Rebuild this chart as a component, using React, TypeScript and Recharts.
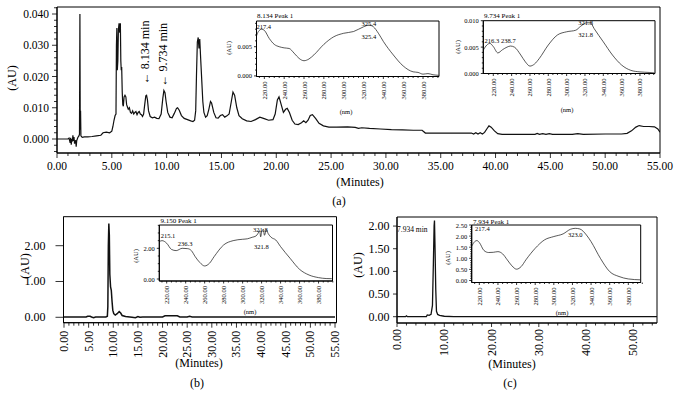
import React from 'react';
import { ComposedChart, Line, XAxis, YAxis, ReferenceArea, ReferenceDot } from 'recharts';

const W = 678;
const H = 406;
const SERIF = '"Liberation Serif", "Times New Roman", Times, serif';

// ---------------- DATA ----------------
// (a) chromatogram: [minutes, AU]
const chromA: [number, number][] = [
  [0, 0], [0.5, 0], [1.0, 0], [1.1, 0.0003], [1.2, -0.0012], [1.25, 0.0004], [1.3, -0.0018], [1.35, 0], [1.4, -0.0008],
  [1.45, 0.0012], [1.5, -0.0006], [1.55, 0.0006], [1.6, -0.0015], [1.7, -0.0004], [1.75, -0.0025], [1.8, -0.0005], [1.9, 0.0005],
  [2.0, 0.001], [2.05, 0.0015], [2.09, 0.04], [2.12, 0.003], [2.15, 0.009], [2.18, 0.001], [2.3, 0.0005], [2.5, 0.0007],
  [2.8, 0.0007], [3.2, 0.0008], [3.6, 0.001], [4.0, 0.0012], [4.2, 0.002], [4.5, 0.0022], [4.8, 0.002], [5.0, 0.0025],
  [5.1, 0.004], [5.2, 0.006], [5.3, 0.0075], [5.38, 0.008], [5.42, 0.03], [5.46, 0.0355], [5.5, 0.022], [5.55, 0.025],
  [5.6, 0.035], [5.66, 0.037], [5.72, 0.034], [5.78, 0.037], [5.82, 0.025], [5.86, 0.022], [5.9, 0.023], [5.95, 0.015],
  [6.0, 0.011], [6.05, 0.0105], [6.12, 0.0135], [6.2, 0.014], [6.28, 0.0135], [6.35, 0.011], [6.45, 0.01], [6.5, 0.0095],
  [6.6, 0.01], [6.7, 0.0085], [6.8, 0.0082], [6.9, 0.009], [7.0, 0.008], [7.1, 0.0085], [7.2, 0.0088], [7.3, 0.0078],
  [7.4, 0.0085], [7.5, 0.0088], [7.6, 0.008], [7.7, 0.0078], [7.8, 0.0072], [7.9, 0.008], [8.0, 0.011], [8.1, 0.0138],
  [8.17, 0.014], [8.25, 0.0125], [8.35, 0.009], [8.5, 0.0072], [8.7, 0.0068], [8.9, 0.007], [9.1, 0.0066], [9.3, 0.0065],
  [9.5, 0.008], [9.65, 0.013], [9.75, 0.0155], [9.85, 0.0148], [9.95, 0.012], [10.1, 0.0085], [10.3, 0.007], [10.5, 0.0068],
  [10.7, 0.0082], [10.9, 0.0098], [11.0, 0.01], [11.15, 0.0092], [11.35, 0.0075], [11.6, 0.0066], [11.9, 0.0062],
  [12.2, 0.0058], [12.4, 0.0056], [12.55, 0.006], [12.65, 0.009], [12.72, 0.02], [12.8, 0.031], [12.88, 0.0325],
  [12.95, 0.029], [13.02, 0.032], [13.1, 0.026], [13.2, 0.019], [13.3, 0.012], [13.4, 0.0085], [13.55, 0.007],
  [13.7, 0.0075], [13.85, 0.0095], [14.0, 0.012], [14.1, 0.0115], [14.3, 0.0085], [14.5, 0.0068], [14.7, 0.0067],
  [14.9, 0.0075], [15.1, 0.0078], [15.3, 0.007], [15.5, 0.0074], [15.7, 0.008], [15.9, 0.012], [16.05, 0.015],
  [16.2, 0.014], [16.4, 0.01], [16.6, 0.0075], [16.9, 0.0065], [17.3, 0.0058], [17.7, 0.0056], [18.1, 0.0062],
  [18.5, 0.007], [18.9, 0.0065], [19.3, 0.006], [19.7, 0.0062], [19.9, 0.008], [20.1, 0.0125], [20.25, 0.0135],
  [20.45, 0.011], [20.65, 0.0085], [20.85, 0.0095], [21.0, 0.0098], [21.2, 0.0085], [21.45, 0.006], [21.7, 0.0048],
  [22.0, 0.0046], [22.3, 0.0052], [22.5, 0.0058], [22.7, 0.0052], [22.9, 0.006], [23.1, 0.0075], [23.3, 0.0078],
  [23.6, 0.0065], [23.9, 0.005], [24.3, 0.0042], [24.8, 0.0038], [25.5, 0.0038], [26.5, 0.0039], [27.2, 0.0037],
  [27.5, 0.0034], [27.8, 0.0036], [28.5, 0.0034], [29.5, 0.0032], [30.5, 0.003], [31.5, 0.0029], [32.5, 0.0028],
  [33.3, 0.0028], [33.6, 0.0019], [35.0, 0.0019], [36.5, 0.0019], [37.8, 0.0019], [38.0, 0.0016], [38.2, 0.002],
  [38.4, 0.0016], [38.6, 0.002], [38.8, 0.0016], [39.0, 0.0021], [39.2, 0.0032], [39.4, 0.0042], [39.6, 0.0038],
  [39.9, 0.0026], [40.2, 0.0017], [40.6, 0.0015], [42.0, 0.0015], [43.6, 0.0015], [43.8, 0.0018], [44.0, 0.0015],
  [44.3, 0.0017], [44.6, 0.0015], [44.9, 0.0017], [45.2, 0.0015], [47.0, 0.0015], [47.5, 0.0017], [48.0, 0.0015],
  [50.0, 0.0016], [51.5, 0.0016], [52.0, 0.0018], [52.4, 0.0026], [52.8, 0.0038], [53.1, 0.0043], [53.5, 0.004],
  [54.0, 0.004], [54.5, 0.0039], [54.8, 0.0032], [55.0, 0.0022],
];

// (a) inset spectra: [nm, AU]
const specA1: [number, number][] = [
  [212, 0.0068], [214, 0.0076], [217.4, 0.008], [220, 0.0078], [225, 0.0064], [230, 0.0054], [235, 0.005], [240, 0.0048],
  [245, 0.0047], [250, 0.0039], [255, 0.003], [260, 0.0026], [265, 0.0029], [270, 0.0036], [280, 0.0054], [290, 0.0067],
  [300, 0.0073], [310, 0.0076], [320, 0.0084], [325.4, 0.0087], [330, 0.0084], [335, 0.0073], [340, 0.0059], [350, 0.0036],
  [360, 0.0017], [370, 0.0007], [375, 0.0006], [380, 0.0003], [385, 0.0004], [390, 0.0002], [396, 0.0001],
];
const specA2: [number, number][] = [
  [209, 0.0044], [213, 0.0054], [216.3, 0.0057], [220, 0.0051], [225, 0.0039], [230, 0.0045], [235, 0.005], [238.7, 0.0052],
  [243, 0.005], [250, 0.0035], [255, 0.0022], [260, 0.0014], [265, 0.0018], [270, 0.0028], [280, 0.0054], [290, 0.0073],
  [300, 0.0079], [310, 0.0082], [315, 0.0089], [321.8, 0.0096], [326, 0.0096], [330, 0.0085], [340, 0.006], [350, 0.0035],
  [360, 0.0016], [370, 0.0006], [380, 0.0003], [390, 0.0002], [396, 0.0001],
];

// (b) chromatogram and spectrum
const chromB: [number, number][] = [
  [0, 0.01], [2, 0.01], [4.5, 0.01], [4.8, 0.03], [5.3, 0.03], [5.6, 0.01], [6.0, -0.01], [6.4, 0.01], [8.5, 0.01],
  [8.8, 0.03], [8.9, 0.3], [9.0, 2.0], [9.1, 2.62], [9.2, 2.3], [9.3, 1.2], [9.45, 0.85], [9.6, 0.75], [9.75, 0.45],
  [9.9, 0.2], [10.1, 0.1], [10.4, 0.06], [10.8, 0.1], [11.2, 0.16], [11.5, 0.12], [11.8, 0.05], [12.5, 0.02], [13.8, 0.0],
  [14.5, -0.01], [15.0, 0.02], [15.4, 0.0], [16, 0.01], [20, 0.01], [20.5, 0.04], [23, 0.04], [23.5, 0.01], [25, 0.01],
  [25.5, 0.03], [26, 0.01], [55, 0.01],
];
const specB: [number, number][] = [
  [212, 2.43], [215.1, 2.5], [220, 2.33], [225, 1.93], [230, 1.85], [236.3, 2.0], [242, 1.98], [246, 1.85], [250, 1.46],
  [255, 1.07], [260, 0.85], [265, 1.02], [270, 1.46], [280, 2.22], [290, 2.5], [300, 2.59], [305, 2.62], [310, 2.72],
  [314, 2.8], [316, 2.95], [318, 3.15], [319, 2.75], [320, 3.05], [321.8, 3.24], [323, 2.85], [325, 3.2], [327, 2.95],
  [330, 2.72], [335, 2.54], [340, 2.11], [350, 1.35], [360, 0.63], [370, 0.26], [380, 0.09], [388, 0.03], [394, 0.02],
];

// (c) chromatogram and spectrum
const chromC: [number, number][] = [
  [0, 0], [1.8, 0], [2.0, 0.02], [2.2, 0], [6.2, 0], [6.4, 0.04], [6.8, 0.03], [7.2, 0.05], [7.5, 0.25], [7.7, 1.2],
  [7.85, 2.0], [7.93, 2.12], [8.05, 1.5], [8.2, 0.6], [8.35, 0.12], [8.6, 0.05], [9, 0.03], [10, 0.01], [12, 0], [55, 0],
];
const specC: [number, number][] = [
  [212, 1.56], [215, 1.75], [217.4, 1.8], [220, 1.71], [225, 1.35], [230, 1.26], [235, 1.27], [240, 1.3], [245, 1.2],
  [250, 0.93], [255, 0.66], [260, 0.51], [265, 0.63], [270, 0.93], [280, 1.45], [290, 1.83], [300, 1.98], [310, 2.1],
  [318, 2.31], [323, 2.35], [328, 2.32], [335, 2.05], [340, 1.75], [350, 1.0], [360, 0.4], [370, 0.18], [380, 0.07], [393, 0.03],
];

// Peak / maxima labels: value positions and texts
const peaksA = [
  { x: 8.134, y: 0.014, text: '\u2190 8.134 min' },
  { x: 9.734, y: 0.0155, text: '\u2190 9.734 min' },
];
const labelsA1 = [
  { x: 217.4, y: 0.008, text: '217.4' },
  { x: 325.4, y: 0.0087, text: '325.4' },
  { x: 325.4, y: 0.0087, text: '325.4' },
];
const labelsA2 = [
  { x: 216.3, y: 0.0057, text: '216.3' },
  { x: 238.7, y: 0.0052, text: '238.7' },
  { x: 321.8, y: 0.0096, text: '321.8' },
  { x: 321.8, y: 0.0096, text: '321.8' },
];
const labelsB = [
  { x: 215.1, y: 2.5, text: '215.1' },
  { x: 236.3, y: 2.0, text: '236.3' },
  { x: 321.8, y: 3.24, text: '321.8' },
  { x: 321.8, y: 3.24, text: '321.8' },
];
const peaksC = [{ x: 7.934, y: 2.12, text: '7.934 min' }];
const labelsC = [
  { x: 217.4, y: 1.8, text: '217.4' },
  { x: 323.0, y: 2.35, text: '323.0' },
];

// tick values
const range = (a: number, b: number, s: number) => {
  const out: number[] = [];
  for (let v = a; v <= b + 1e-9; v += s) out.push(Math.round(v * 1e6) / 1e6);
  return out;
};
const ticksAx = range(0, 55, 1);
const ticksAy = range(-0.004, 0.042, 0.002);
const ticksBx = range(0, 55, 1);
const ticksBy = [0, 1, 2];
const ticksCx = range(0, 54, 2);
const ticksCy = [0, 0.5, 1, 1.5, 2];
const ticksNm = range(215, 395, 5);
const ticksA1y = range(0, 0.009, 0.001);
const ticksA2y = range(0, 0.01, 0.001);
const ticksBIy = range(0, 3.5, 0.5);
const ticksCIy = range(0, 2.5, 0.1);

// ---------------- RENDERING ----------------
type AxisStyle = {
  major: number;
  majorLen: number;
  minorLen: number;
  fs: number;
  offset: number;
  rotate?: boolean;
  digits: number;
};
type Note = { x: number; y: number; text: string };
type NoteStyle = { dx: number; dy: number; anchor?: 'start' | 'middle' | 'end'; fs: number; rotate?: boolean };

const isMajor = (v: number, step: number) => Math.abs(v / step - Math.round(v / step)) < 1e-6;

function makeXTick(s: AxisStyle, axisY: number) {
  return (p: any) => {
    const v = p.payload.value as number;
    const maj = isMajor(v, s.major);
    const len = maj ? s.majorLen : s.minorLen;
    const x = p.x;
    const y = axisY;
    const label = v.toFixed(s.digits);
    return (
      <g key={`xt-${v}`}>
        <line x1={x} x2={x} y1={y} y2={y + len} stroke="#000" strokeWidth={0.8} />
        {maj &&
          (s.rotate ? (
            <text
              transform={`translate(${x},${y + s.offset}) rotate(-90)`}
              textAnchor="end"
              dominantBaseline="central"
              fontSize={s.fs}
              fontFamily={SERIF}
              fill="#000"
            >
              {label}
            </text>
          ) : (
            <text x={x} y={y + s.offset} textAnchor="middle" fontSize={s.fs} fontFamily={SERIF} fill="#000">
              {label}
            </text>
          ))}
      </g>
    );
  };
}

function makeYTick(s: AxisStyle, axisX: number) {
  return (p: any) => {
    const v = p.payload.value as number;
    const maj = isMajor(v, s.major);
    const len = maj ? s.majorLen : s.minorLen;
    const x = axisX;
    const y = p.y;
    return (
      <g key={`yt-${v}`}>
        <line x1={x - len} x2={x} y1={y} y2={y} stroke="#000" strokeWidth={0.8} />
        {maj && (
          <text x={x - s.offset} y={y} textAnchor="end" dominantBaseline="central" fontSize={s.fs} fontFamily={SERIF} fill="#000">
            {v.toFixed(s.digits)}
          </text>
        )}
      </g>
    );
  };
}

type Box = { l: number; r: number; t: number; b: number };
type PanelProps = {
  box: Box;
  xDomain: [number, number];
  yDomain: [number, number];
  xTicks: number[];
  yTicks: number[];
  xs: AxisStyle;
  ys: AxisStyle;
  data: [number, number][];
  strokeWidth: number;
  curve: 'linear' | 'monotone';
  notes?: Note[];
  noteStyles?: NoteStyle[];
};

function Panel(props: PanelProps) {
  const { box, xDomain, yDomain, xTicks, yTicks, xs, ys, data, strokeWidth, curve } = props;
  const notes = props.notes || [];
  const noteStyles = props.noteStyles || [];
  const chartData = data.map(([x, y]) => ({ x, y }));
  return (
    <div style={{ position: 'absolute', left: 0, top: 0, width: W, height: H }}>
      <ComposedChart
        width={W}
        height={H}
        data={chartData}
        margin={{ top: box.t, left: box.l - 1, right: W - box.r, bottom: H - box.b - 1 }}
      >
        <XAxis
          type="number"
          dataKey="x"
          domain={xDomain}
          allowDataOverflow
          ticks={xTicks}
          interval={0}
          height={1}
          tickSize={0}
          tickMargin={0}
          tickLine={false}
          axisLine={{ stroke: '#000', strokeWidth: 1 }}
          tick={makeXTick(xs, box.b)}
        />
        <YAxis
          type="number"
          domain={yDomain}
          allowDataOverflow
          ticks={yTicks}
          interval={0}
          width={1}
          tickSize={0}
          tickMargin={0}
          tickLine={false}
          axisLine={{ stroke: '#000', strokeWidth: 1 }}
          tick={makeYTick(ys, box.l)}
        />
        <ReferenceArea
          x1={xDomain[0]}
          x2={xDomain[1]}
          y1={yDomain[0]}
          y2={yDomain[1]}
          fill="none"
          fillOpacity={0}
          stroke="#000"
          strokeWidth={1}
          ifOverflow="visible"
        />
        <Line
          type={curve}
          dataKey="y"
          stroke="#111"
          strokeWidth={strokeWidth}
          dot={false}
          activeDot={false}
          isAnimationActive={false}
        />
        {notes.map((n, i) => {
          const st = noteStyles[i] || { dx: 0, dy: 0, fs: 7 };
          return (
            <ReferenceDot
              key={`n-${i}`}
              x={n.x}
              y={n.y}
              r={0}
              ifOverflow="visible"
              shape={(p: any) =>
                st.rotate ? (
                  <text
                    transform={`translate(${p.cx + st.dx},${p.cy + st.dy}) rotate(-90)`}
                    textAnchor={st.anchor || 'start'}
                    dominantBaseline="central"
                    fontSize={st.fs}
                    fontFamily={SERIF}
                    fill="#000"
                  >
                    {n.text}
                  </text>
                ) : (
                  <text
                    x={p.cx + st.dx}
                    y={p.cy + st.dy}
                    textAnchor={st.anchor || 'middle'}
                    fontSize={st.fs}
                    fontFamily={SERIF}
                    fill="#000"
                  >
                    {n.text}
                  </text>
                )
              }
            />
          );
        })}
      </ComposedChart>
    </div>
  );
}

// styles
const mainAx: AxisStyle = { major: 5, majorLen: 5, minorLen: 3, fs: 11.5, offset: 17, digits: 2 };
const mainAy: AxisStyle = { major: 0.01, majorLen: 5, minorLen: 3, fs: 11.5, offset: 8, digits: 3 };
const mainBx: AxisStyle = { major: 5, majorLen: 5, minorLen: 3, fs: 12, offset: 8, rotate: true, digits: 2 };
const mainBy: AxisStyle = { major: 1, majorLen: 8, minorLen: 4, fs: 12, offset: 18, digits: 2 };
const mainCx: AxisStyle = { major: 10, majorLen: 4, minorLen: 2.5, fs: 12, offset: 6, rotate: true, digits: 2 };
const mainCy: AxisStyle = { major: 0.5, majorLen: 4, minorLen: 2, fs: 12, offset: 7.5, digits: 2 };
const insetX: AxisStyle = { major: 20, majorLen: 2.5, minorLen: 1.5, fs: 6.5, offset: 5, rotate: true, digits: 2 };
const insetY3: AxisStyle = { major: 0.005, majorLen: 2.5, minorLen: 1.5, fs: 6.5, offset: 4.5, digits: 3 };
const insetYB: AxisStyle = { major: 2, majorLen: 2.5, minorLen: 1.5, fs: 6.5, offset: 4.5, digits: 2 };
const insetYC: AxisStyle = { major: 0.5, majorLen: 2.5, minorLen: 1.5, fs: 6.5, offset: 4.5, digits: 2 };

const peaksAStyle: NoteStyle[] = [
  { dx: -1, dy: -11, fs: 12, rotate: true, anchor: 'start' },
  { dx: -1, dy: -4, fs: 12, rotate: true, anchor: 'start' },
];
const labelsA1Style: NoteStyle[] = [
  { dx: 2, dy: 0, fs: 6.5 },
  { dx: 0, dy: 1, fs: 6.5 },
  { dx: 0, dy: 13.5, fs: 6.5 },
];
const labelsA2Style: NoteStyle[] = [
  { dx: 2, dy: 0, fs: 6.5 },
  { dx: -2, dy: -3, fs: 6.5 },
  { dx: -1, dy: 2.5, fs: 6.5 },
  { dx: -1, dy: 14.5, fs: 6.5 },
];
const labelsBStyle: NoteStyle[] = [
  { dx: 6, dy: -2.5, fs: 6.5 },
  { dx: 3, dy: -2, fs: 6.5 },
  { dx: -3, dy: 3, fs: 6.5 },
  { dx: -2, dy: 19.5, fs: 6.5 },
];
const peaksCStyle: NoteStyle[] = [{ dx: -7, dy: 11, fs: 7.5, anchor: 'end' }];
const labelsCStyle: NoteStyle[] = [
  { dx: 5.5, dy: -10, fs: 6.5 },
  { dx: 0, dy: 9, fs: 6.5 },
];

type T = { x: number; y: number; t: string; fs: number; rot?: boolean; anchor?: 'start' | 'middle' | 'end' };
const overlayTexts: T[] = [
  { x: 12, y: 78, t: '(AU)', fs: 12, rot: true },
  { x: 360, y: 186, t: '(Minutes)', fs: 12 },
  { x: 339, y: 205, t: '(a)', fs: 12 },
  { x: 257, y: 17.5, t: '8.134 Peak 1', fs: 7, anchor: 'start' },
  { x: 228, y: 48, t: '(AU)', fs: 6.5, rot: true },
  { x: 346, y: 114, t: '(nm)', fs: 6.5 },
  { x: 484, y: 17.5, t: '9.734 Peak 1', fs: 7, anchor: 'start' },
  { x: 457, y: 47, t: '(AU)', fs: 6.5, rot: true },
  { x: 567, y: 112, t: '(nm)', fs: 6.5 },
  { x: 25, y: 266, t: '(AU)', fs: 12, rot: true },
  { x: 199, y: 367, t: '(Minutes)', fs: 12 },
  { x: 197, y: 387, t: '(b)', fs: 12 },
  { x: 160.5, y: 223, t: '9.150 Peak 1', fs: 7, anchor: 'start' },
  { x: 135, y: 256, t: '(AU)', fs: 6.5, rot: true },
  { x: 250, y: 314, t: '(nm)', fs: 6.5 },
  { x: 358, y: 265, t: '(AU)', fs: 12, rot: true },
  { x: 512, y: 368, t: '(Minutes)', fs: 12 },
  { x: 510, y: 387, t: '(c)', fs: 12 },
  { x: 473, y: 223.5, t: '7.934 Peak 1', fs: 7, anchor: 'start' },
  { x: 447, y: 258, t: '(AU)', fs: 6.5, rot: true },
  { x: 562, y: 315, t: '(nm)', fs: 6.5 },
];

export default function App() {
  return (
    <div style={{ position: 'absolute', left: 0, top: 0, width: W, height: H, background: '#fff', overflow: 'hidden' }}>
      <Panel
        box={{ l: 57, r: 660, t: 7, b: 153 }}
        xDomain={[0, 55]}
        yDomain={[-0.00448, 0.04224]}
        xTicks={ticksAx}
        yTicks={ticksAy}
        xs={mainAx}
        ys={mainAy}
        data={chromA}
        strokeWidth={1.2}
        curve="linear"
        notes={peaksA}
        noteStyles={peaksAStyle}
      />
      <Panel
        box={{ l: 256.5, r: 439, t: 21, b: 76.5 }}
        xDomain={[212.1, 396.1]}
        yDomain={[-0.0001, 0.0094]}
        xTicks={ticksNm}
        yTicks={ticksA1y}
        xs={insetX}
        ys={insetY3}
        data={specA1}
        strokeWidth={0.7}
        curve="monotone"
        notes={labelsA1}
        noteStyles={labelsA1Style}
      />
      <Panel
        box={{ l: 483.3, r: 655, t: 20.7, b: 73.5 }}
        xDomain={[209.1, 396.4]}
        yDomain={[0, 0.01]}
        xTicks={ticksNm}
        yTicks={ticksA2y}
        xs={insetX}
        ys={insetY3}
        data={specA2}
        strokeWidth={0.7}
        curve="monotone"
        notes={labelsA2}
        noteStyles={labelsA2Style}
      />
      <Panel
        box={{ l: 63.5, r: 336.5, t: 216.7, b: 322.7 }}
        xDomain={[-0.1, 55.3]}
        yDomain={[-0.151, 2.81]}
        xTicks={ticksBx}
        yTicks={ticksBy}
        xs={mainBx}
        ys={mainBy}
        data={chromB}
        strokeWidth={1.5}
        curve="linear"
      />
      <Panel
        box={{ l: 159.3, r: 332.5, t: 225, b: 281 }}
        xDomain={[212.2, 394.7]}
        yDomain={[-0.13, 3.52]}
        xTicks={ticksNm}
        yTicks={ticksBIy}
        xs={insetX}
        ys={insetYB}
        data={specB}
        strokeWidth={0.7}
        curve="monotone"
        notes={labelsB}
        noteStyles={labelsBStyle}
      />
      <Panel
        box={{ l: 397, r: 657, t: 217, b: 323 }}
        xDomain={[0, 55]}
        yDomain={[-0.139, 2.2]}
        xTicks={ticksCx}
        yTicks={ticksCy}
        xs={mainCx}
        ys={mainCy}
        data={chromC}
        strokeWidth={1.3}
        curve="linear"
        notes={peaksC}
        noteStyles={peaksCStyle}
      />
      <Panel
        box={{ l: 471.7, r: 640.7, t: 225, b: 282.5 }}
        xDomain={[211.8, 393.3]}
        yDomain={[-0.09, 2.5]}
        xTicks={ticksNm}
        yTicks={ticksCIy}
        xs={insetX}
        ys={insetYC}
        data={specC}
        strokeWidth={0.7}
        curve="monotone"
        notes={labelsC}
        noteStyles={labelsCStyle}
      />
      <svg width={W} height={H} style={{ position: 'absolute', left: 0, top: 0, pointerEvents: 'none' }}>
        {overlayTexts.map((o, i) =>
          o.rot ? (
            <text
              key={i}
              transform={`translate(${o.x},${o.y}) rotate(-90)`}
              textAnchor="middle"
              dominantBaseline="central"
              fontSize={o.fs}
              fontFamily={SERIF}
              fill="#000"
            >
              {o.t}
            </text>
          ) : (
            <text key={i} x={o.x} y={o.y} textAnchor={o.anchor || 'middle'} fontSize={o.fs} fontFamily={SERIF} fill="#000">
              {o.t}
            </text>
          )
        )}
      </svg>
    </div>
  );
}
